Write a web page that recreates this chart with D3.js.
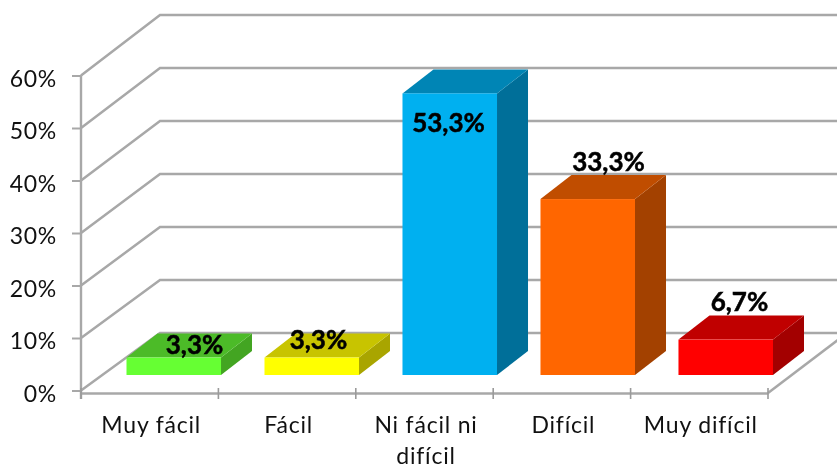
<!DOCTYPE html>
<html><head><meta charset="utf-8">
<script src="https://cdn.jsdelivr.net/npm/d3@7"></script>
<style>
html,body{margin:0;padding:0;background:#fff;}
svg{display:block;filter:blur(0.5px);}
</style></head><body>
<svg id="c" width="837" height="469"></svg>
<script>
const categories = ["Muy fácil","Fácil","Ni fácil ni difícil","Difícil","Muy difícil"];
const values = [3.3,3.3,53.3,33.3,6.7];
const valueLabels = ["3,3%","3,3%","53,3%","33,3%","6,7%"];
const tickValues = [0,10,20,30,40,50,60];
const faceColors = ["#66ff33","#ffff00","#00b0f0","#ff6600","#ff0000"];
const topColors = ["#4cbb28","#c8c400","#0085b5","#c04d00","#c00000"];
const sideColors = ["#43a522","#a9a500","#006f99","#a34100","#a30000"];

// layout
const W=837,H=469, left=81, right=768, floorY=393;
const depthX=79, barDepthX=31, barDepthY=-24;
const svg=d3.select("#c");
const FONT="Lato, Carlito, sans-serif";
const gridColor="#a8a8a8";

const yAxisScale=d3.scaleLinear().domain([0,60]).range([390.5,75.5]);
const yBack=d3.scaleLinear().domain([0,60]).range([333,15]);
const yBar=d3.scaleLinear().domain([0,60]).range([375,58]);
const xAxisScale=d3.scaleBand().domain(categories).range([left,right]);
const xBar=d3.scaleBand().domain(categories).range([126.5,773]).paddingInner(0.315);

// walls: gridlines
const walls=svg.append("g").attr("fill","none").attr("stroke",gridColor).attr("stroke-width",2.5);
walls.selectAll("path").data(tickValues).join("path")
  .attr("d",d=>{const p=d3.path();p.moveTo(left,yAxisScale(d));p.lineTo(left+depthX,yBack(d));p.lineTo(W+5,yBack(d));return p.toString();});
// floor right edge
walls.append("line").attr("x1",right).attr("y1",floorY).attr("x2",right+depthX).attr("y2",yBack(0));

// axes
const yAxis=d3.axisLeft(yAxisScale).tickValues(tickValues).tickSize(9).tickPadding(15).tickFormat(d=>d+"%");
const gy=svg.append("g").attr("transform",`translate(${left},0)`).call(yAxis);
gy.select(".domain").remove();
gy.selectAll(".tick line").attr("stroke",gridColor).attr("stroke-width",2);
gy.selectAll(".tick text").attr("font-family",FONT).attr("font-size",23).attr("letter-spacing","0.7px").attr("fill","#111").attr("dy","0.46em");
svg.append("line").attr("x1",left).attr("x2",left).attr("y1",yAxisScale(60)).attr("y2",floorY+6).attr("stroke",gridColor).attr("stroke-width",2.4);

const xAxis=d3.axisBottom(xAxisScale).tickSize(0).tickPadding(24);
const gx=svg.append("g").attr("transform",`translate(0,${floorY})`).call(xAxis);
gx.select(".domain").attr("stroke",gridColor).attr("stroke-width",2.6);
gx.selectAll(".tick text").attr("font-family",FONT).attr("font-size",23).attr("letter-spacing","0.8px").attr("fill","#111")
  .each(function(){
    const t=d3.select(this), words=t.text().split(" "), y=+t.attr("y"), dy=t.attr("dy");
    t.text(null);
    let line=[], ts=t.append("tspan").attr("x",1.5).attr("y",y).attr("dy",dy), n=0;
    for(const w of words){
      line.push(w); ts.text(line.join(" "));
      if(ts.node().getComputedTextLength()>135 && line.length>1){
        line.pop(); ts.text(line.join(" ")); line=[w]; n++;
        ts=t.append("tspan").attr("x",1.5).attr("y",y+n*31).attr("dy",dy).text(w);
      }
    }
  });
// category separators
svg.append("g").selectAll("line").data(d3.range(0,6)).join("line")
  .attr("x1",i=>left+i*xAxisScale.step()).attr("x2",i=>left+i*xAxisScale.step())
  .attr("y1",floorY-5).attr("y2",floorY+6).attr("stroke","#9a9a9a").attr("stroke-width",1.6);

// bars
const bars=svg.append("g").selectAll("g").data(categories).join("g");
const pts=a=>a.map(p=>p.join(",")).join(" ");
bars.append("polygon").attr("fill",(d,i)=>sideColors[i]).attr("points",(d,i)=>{
  const x=xBar(d)+xBar.bandwidth(),t=yBar(values[i]),b=yBar(0);
  return pts([[x,t],[x+barDepthX,t+barDepthY],[x+barDepthX,b+barDepthY],[x,b]]);});
bars.append("polygon").attr("fill",(d,i)=>topColors[i]).attr("points",(d,i)=>{
  const x=xBar(d),w=xBar.bandwidth(),t=yBar(values[i]);
  return pts([[x,t],[x+barDepthX,t+barDepthY],[x+w+barDepthX,t+barDepthY],[x+w,t]]);});
bars.append("rect").attr("fill",(d,i)=>faceColors[i])
  .attr("x",d=>xBar(d)).attr("width",xBar.bandwidth())
  .attr("y",(d,i)=>yBar(values[i])).attr("height",(d,i)=>yBar(0)-yBar(values[i]));

// value labels (offset from each bar's front-top-left corner)
const labelOffX=[68,54,46,68,61], labelOffY=[-4,-9,39,-28,-29];
svg.append("g").selectAll("text").data(categories).join("text")
  .attr("x",(d,i)=>xBar(d)+labelOffX[i]).attr("y",(d,i)=>yBar(values[i])+labelOffY[i])
  .attr("text-anchor","middle").attr("font-family",FONT).attr("font-weight",700).attr("font-size",26)
  .attr("fill","#000").attr("stroke","#000").attr("stroke-width",0.5)
  .text((d,i)=>valueLabels[i]);
</script>
</body></html>
